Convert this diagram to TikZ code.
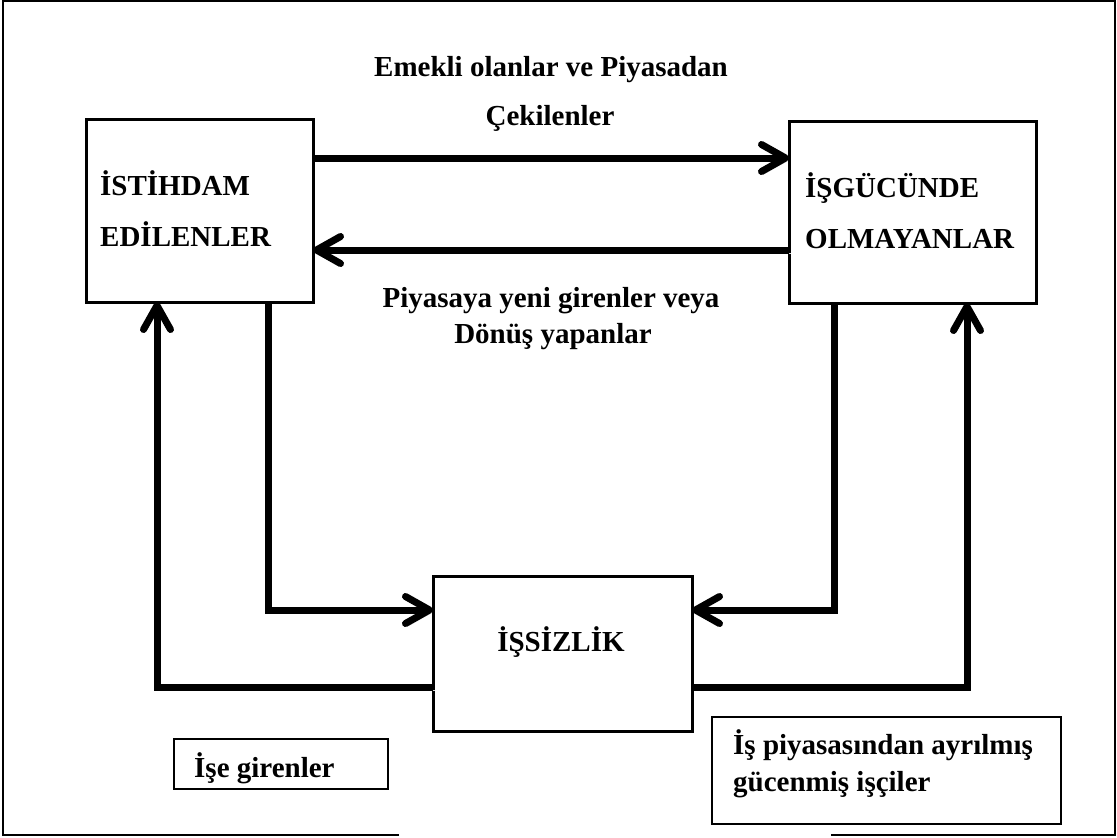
\documentclass[tikz,border=0pt]{standalone}
\usepackage{fontspec}
\setmainfont{Liberation Serif}
\usetikzlibrary{arrows.meta}
\begin{document}
\begin{tikzpicture}[x=1pt,y=-1pt,
  box/.style={draw, line width=3pt, outer sep=0pt, inner sep=0pt},
  smallbox/.style={draw, line width=1.6pt, outer sep=0pt, inner sep=0pt},
  lbl/.style={inner sep=0pt, anchor=base west, font=\fontsize{29}{35}\selectfont\bfseries},
  clbl/.style={inner sep=0pt, anchor=base, font=\fontsize{29}{35}\selectfont\bfseries},
  conn/.style={line width=7pt, line join=miter,
    -{Straight Barb[length=24pt,width=27pt,round]},
    preaction={draw=black!14, transform canvas={shift={(2pt,-3pt)}}}},
  frame/.style={line width=2pt}]
\useasboundingbox (0,0) rectangle (1117,838);
% outer frame
\coordinate (f1) at (399,835);
\coordinate (f2) at (3,835);
\coordinate (f3) at (3,1);
\coordinate (f4) at (1115,1);
\coordinate (f5) at (1115,835);
\coordinate (f6) at (831,835);
\draw[frame] (f1) -- (f2) -- (f3) -- (f4) -- (f5) -- (f6);
% boxes
\node[box, minimum width=227pt, minimum height=183pt] (ist) at (199.5,210.5) {};
\node[box, minimum width=247pt, minimum height=182pt] (isg) at (912.5,212) {};
\node[box, minimum width=259pt, minimum height=155pt] (iss) at (562.5,653.5) {};
\node[smallbox, minimum width=214pt, minimum height=50pt] (b1) at (281,764) {};
\node[smallbox, minimum width=349pt, minimum height=107pt] (b2) at (886.5,770.5) {};
% box texts
\node[lbl] (t1) at (100,195) {İSTİHDAM};
\node[lbl] (t2) at (100,246) {EDİLENLER};
\node[lbl] (t3) at (805,197) {İŞGÜCÜNDE};
\node[lbl] (t4) at (805,248) {OLMAYANLAR};
\node[clbl] (t5) at (561,651) {İŞSİZLİK};
\node[lbl] (t6) at (194,777) {İşe girenler};
\node[lbl] (t7) at (733,754) {İş piyasasından ayrılmış};
\node[lbl] (t8) at (733,791) {gücenmiş işçiler};
% flow labels
\node[clbl] (l1) at (551,76) {Emekli olanlar ve Piyasadan};
\node[clbl] (l2) at (550,125) {Çekilenler};
\node[clbl] (l3) at (551,307) {Piyasaya yeni girenler veya};
\node[clbl] (l4) at (553,343) {Dönüş yapanlar};
% helper coordinates
\coordinate (ya) at (0,158);
\coordinate (yb) at (0,250);
\coordinate (yc) at (0,610);
\coordinate (yd) at (0,687);
\coordinate (xc) at (268,0);
\coordinate (xd) at (834,0);
\coordinate (xe) at (157,0);
\coordinate (xf) at (967,0);
% connectors
\draw[conn] (ist.east |- ya) -- (isg.west |- ya);
\draw[conn] (isg.west |- yb) -- (ist.east |- yb);
\draw[conn] (ist.south -| xc) -- (xc |- yc) -- (iss.west |- yc);
\draw[conn] (isg.south -| xd) -- (xd |- yc) -- (iss.east |- yc);
\draw[conn] (iss.west |- yd) -- (xe |- yd) -- (ist.south -| xe);
\draw[conn] (iss.east |- yd) -- (xf |- yd) -- (isg.south -| xf);
\end{tikzpicture}
\end{document}
